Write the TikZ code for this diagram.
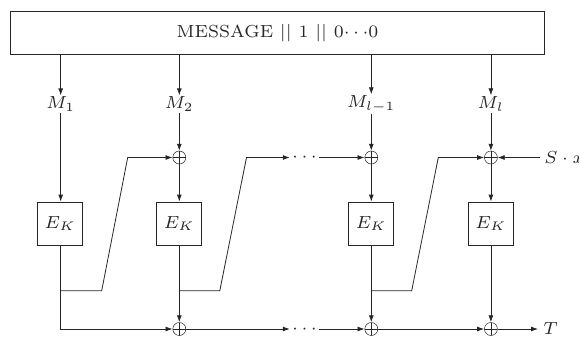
\documentclass[tikz,border=0pt]{standalone}
\usepackage{graphicx}
\usetikzlibrary{arrows.meta,calc}
\newcommand\ft[1]{\scalebox{2.5}{\scriptsize #1}}
\begin{document}
\begin{tikzpicture}[x=1pt,y=-1pt, line width=0.8pt, color={black!85},
  arr/.style={-{Latex[length=7pt,width=5pt]}},
  ekbox/.style={draw, minimum width=45pt, minimum height=43pt, inner sep=0pt},
  xorn/.style={circle, draw, line width=0.5pt, minimum size=13pt, inner sep=0pt,
    path picture={\draw[line width=0.5pt] (path picture bounding box.north) -- (path picture bounding box.south)
      (path picture bounding box.west) -- (path picture bounding box.east);}},
  lab/.style={inner sep=1pt},
  dotn/.style={inner sep=2pt}]
\useasboundingbox (0,0) rectangle (579,338);
\node[draw, minimum width=533.6pt, minimum height=42.6pt, inner sep=0pt] (msg) at (277.5,33) {\ft{MESSAGE $||$ 1 $||$ 0$\cdots$0}};
% labels
\node[lab] (m1) at (60.7,104) {\ft{$M_1$}};
\node[lab] (m2) at (179.3,104) {\ft{$M_2$}};
\node[lab] (m3) at (371.3,104) {\ft{$M_{l-1}$}};
\node[lab] (m4) at (490.9,104) {\ft{$M_l$}};
% xors
\node[xorn] (x2) at (179.3,157.5) {};
\node[xorn] (x3) at (371.3,157.5) {};
\node[xorn] (x4) at (490.9,157.5) {};
\node[xorn] (b2) at (179.3,329) {};
\node[xorn] (b3) at (371.3,329) {};
\node[xorn] (b4) at (490.9,329) {};
% E boxes
\node[ekbox] (e1) at (60.2,223.5) {\ft{$E_K$}};
\node[ekbox] (e2) at (179.3,223.5) {\ft{$E_K$}};
\node[ekbox] (e3) at (371.3,223.5) {\ft{$E_K$}};
\node[ekbox] (e4) at (490.9,223.5) {\ft{$E_K$}};
% dots
\node[dotn] (t) at (304.5,157.5) {\ft{$\cdots$}};
\node[dotn] (u) at (304.5,329) {\ft{$\cdots$}};
% inputs / outputs
\node[anchor=west, inner xsep=4pt, inner ysep=0pt] (sx) at (540,157.5) {\ft{$S\cdot x$}};
\node[anchor=west, inner xsep=5pt, inner ysep=0pt] (T) at (538,329) {\ft{$T$}};
% coordinates
\coordinate (j1) at (60.7,290.7);
\coordinate (j2) at (179.3,290.7);
\coordinate (j3) at (371.3,290.7);
\coordinate (d1a) at (101.7,290.7);
\coordinate (d1b) at (127.7,157.5);
\coordinate (d2a) at (219.8,290.7);
\coordinate (d2b) at (246.5,157.5);
\coordinate (d3a) at (411.7,290.7);
\coordinate (d3b) at (438.3,157.5);
% connectors
\foreach \m in {m1,m2,m3,m4} \draw[arr] (msg.south -| \m.north) -- (\m.north);
\draw[arr] (m1) -- (e1.north -| m1);
\draw[arr] (m2) -- (x2);
\draw[arr] (m3) -- (x3);
\draw[arr] (m4) -- (x4);
\draw[arr] (x2) -- (e2);
\draw[arr] (x3) -- (e3);
\draw[arr] (x4) -- (e4);
\draw[arr] (e1.south -| j1) |- (b2);
\draw[arr] (j1) -- (d1a) -- (d1b) -- (x2);
\draw[arr] (e2) -- (b2);
\draw[arr] (j2) -- (d2a) -- (d2b) -- (t);
\draw[arr] (t) -- (x3);
\draw[arr] (b2) -- (u);
\draw[arr] (u) -- (b3);
\draw[arr] (e3) -- (b3);
\draw[arr] (j3) -- (d3a) -- (d3b) -- (x4);
\draw[arr] (b3) -- (b4);
\draw[arr] (e4) -- (b4);
\draw[arr] (b4) -- (T);
\draw[arr] (sx) -- (x4);
\end{tikzpicture}
\end{document}
